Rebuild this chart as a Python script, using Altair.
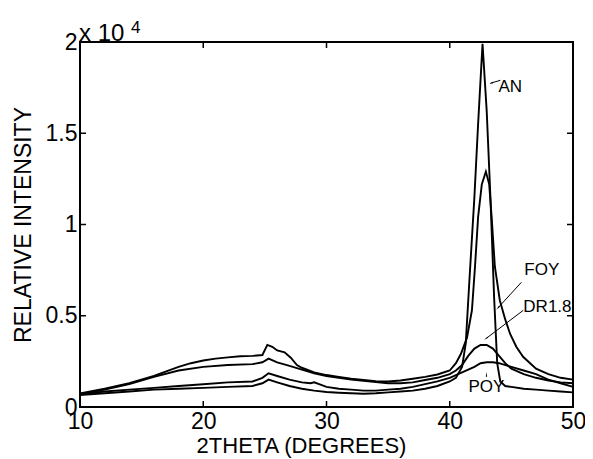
import altair as alt
import pandas as pd

# ---- data (intensity in units of 1e4 counts) ----
foy_x = [10,12,14,16,17,18,19,20,21,22,23,24,24.8,25.2,25.6,26,26.6,27.1,27.6,28,29,30,31,32,33,34,35,36,37,38,39,40,40.5,40.9,41.4,41.8,42.05,42.3,42.6,42.93,43.2,43.4,43.66,44.06,44.5,44.9,45.4,45.95,47,48,49,50]
foy_y = [0.075,0.10,0.13,0.17,0.195,0.22,0.24,0.255,0.265,0.272,0.278,0.28,0.285,0.34,0.33,0.31,0.30,0.27,0.23,0.215,0.19,0.175,0.165,0.155,0.148,0.142,0.14,0.145,0.155,0.165,0.178,0.20,0.24,0.29,0.38,0.53,0.77,1.04,1.22,1.29,1.22,1.04,0.77,0.585,0.48,0.40,0.33,0.275,0.21,0.18,0.16,0.15]

dr_x = [10,12,14,16,18,20,22,24,24.8,25.3,26,27,28,29,30,31,32,33,34,35,36,37,38,39,40,40.5,41,41.5,42,42.5,43,43.5,44,44.5,45,46,47,48,49,50]
dr_y = [0.07,0.095,0.125,0.165,0.20,0.22,0.23,0.235,0.245,0.265,0.245,0.225,0.205,0.185,0.17,0.16,0.15,0.143,0.137,0.13,0.13,0.135,0.148,0.16,0.18,0.2,0.23,0.28,0.32,0.34,0.34,0.32,0.28,0.24,0.21,0.18,0.16,0.145,0.135,0.13]

poy_x = [10,12,14,16,18,20,22,24,24.8,25.3,26,27,28,28.7,29,29.4,30,31,32,33,34,35,36,37,38,39,40,40.5,41,42,42.5,43,43.5,44,45,46,47,48,49,50]
poy_y = [0.07,0.085,0.095,0.105,0.115,0.125,0.135,0.14,0.16,0.185,0.17,0.15,0.135,0.13,0.135,0.125,0.11,0.10,0.095,0.09,0.09,0.095,0.10,0.11,0.125,0.14,0.16,0.175,0.19,0.22,0.24,0.245,0.245,0.24,0.22,0.2,0.18,0.15,0.13,0.11]

an_x = [10,12,14,16,18,20,22,24,24.8,25.3,26,27,28,29,30,31,32,33,34,35,36,37,38,39,40,40.5,41,41.3,41.6,42,42.3,42.66,43,43.3,43.6,43.85,44.1,44.5,45,46,47,48,49,50]
an_y = [0.065,0.075,0.085,0.095,0.10,0.105,0.11,0.115,0.13,0.15,0.135,0.115,0.10,0.09,0.082,0.078,0.075,0.073,0.075,0.08,0.085,0.09,0.10,0.115,0.14,0.16,0.22,0.35,0.7,1.15,1.55,1.99,1.62,1.15,0.6,0.24,0.14,0.115,0.11,0.1,0.095,0.09,0.085,0.08]

x_ticks = [10, 20, 30, 40, 50]
y_ticks = [0, 5000, 10000, 15000, 20000]

# annotation labels (data coordinates, intensity in 1e4)
ann_text = ["AN", "FOY", "DR1.8", "POY"]
ann_x = [43.95, 46.05, 45.97, 42.98]
ann_y = [1.754, 0.749, 0.546, 0.109]
ann_align = ["left", "left", "left", "center"]
# arrows: start -> tip
arr_x1 = [44.11, 45.81, 45.97]
arr_y1 = [1.79, 0.683, 0.53]
arr_x2 = [43.39, 43.95, 42.98]
arr_y2 = [1.776, 0.546, 0.377]
head_x = [43.39, 43.95, 42.98, 42.98]
head_y = [1.776, 0.546, 0.377, 0.175]
head_angle = [251.6, 222.6, 232.9, 0]

rows = []
for name, xs, ys in [("FOY", foy_x, foy_y), ("DR1.8", dr_x, dr_y), ("POY", poy_x, poy_y), ("AN", an_x, an_y)]:
    for i, (a, b) in enumerate(zip(xs, ys)):
        rows.append({"series": name, "order": i, "x": a, "y": b * 10000})
df = pd.DataFrame(rows)

ann_df = pd.DataFrame({"t": ann_text, "x": ann_x, "y": [v * 10000 for v in ann_y], "al": ann_align})
arr_df = pd.DataFrame({"x": arr_x1, "y": [v * 10000 for v in arr_y1],
                       "x2": arr_x2, "y2": [v * 10000 for v in arr_y2]})
head_df = pd.DataFrame({"x": head_x, "y": [v * 10000 for v in head_y], "a": head_angle})
xt_df = pd.DataFrame({"v": x_ticks[1:-1]})
yt_df = pd.DataFrame({"v": y_ticks[1:-1]})

W, H = 493, 365
FONT = "Liberation Sans"

xscale = alt.Scale(domain=[10, 50], nice=False, zero=False)
yscale = alt.Scale(domain=[0, 20000], nice=False)

lines = alt.Chart(df).mark_line(color="black", strokeWidth=1.9).encode(
    x=alt.X("x:Q", scale=xscale,
            axis=alt.Axis(values=x_ticks, title="2THETA (DEGREES)", tickSize=0, grid=False,
                          domain=False, labelFontSize=23, labelPadding=3, labelColor="black",
                          labelFlush=False, labelOverlap=False,
                          titleFontSize=22, titleFontWeight="normal", titleColor="black",
                          titleX=221, titleY=45, titleBaseline="alphabetic",
                          labelFont=FONT, titleFont=FONT)),
    y=alt.Y("y:Q", scale=yscale,
            axis=alt.Axis(values=y_ticks, title="RELATIVE INTENSITY", tickSize=0, grid=False,
                          domain=False, labelFontSize=23, labelPadding=3, labelColor="black",
                          labelFlush=False, labelOverlap=False,
                          labelExpr="datum.value/10000",
                          titleFontSize=23, titleFontWeight="normal", titleColor="black",
                          titleX=-57, titleBaseline="middle",
                          labelFont=FONT, titleFont=FONT)),
    detail="series:N",
    order="order:Q",
)

xt_bottom = alt.Chart(xt_df).mark_rule(color="black", strokeWidth=1.5).encode(
    x=alt.X("v:Q", scale=xscale), y=alt.value(H), y2=alt.value(H - 6))
xt_top = alt.Chart(xt_df).mark_rule(color="black", strokeWidth=1.5).encode(
    x=alt.X("v:Q", scale=xscale), y=alt.value(0), y2=alt.value(6))
yt_left = alt.Chart(yt_df).mark_rule(color="black", strokeWidth=1.5).encode(
    y=alt.Y("v:Q", scale=yscale), x=alt.value(0), x2=alt.value(6))
yt_right = alt.Chart(yt_df).mark_rule(color="black", strokeWidth=1.5).encode(
    y=alt.Y("v:Q", scale=yscale), x=alt.value(W), x2=alt.value(W - 6))

labels_left = alt.Chart(ann_df[ann_df.al == "left"]).mark_text(
    fontSize=17, font=FONT, color="black", baseline="middle", align="left").encode(
    x=alt.X("x:Q", scale=xscale), y=alt.Y("y:Q", scale=yscale), text="t:N")
labels_center = alt.Chart(ann_df[ann_df.al == "center"]).mark_text(
    fontSize=17, font=FONT, color="black", baseline="middle", align="center").encode(
    x=alt.X("x:Q", scale=xscale), y=alt.Y("y:Q", scale=yscale), text="t:N")

arrows = alt.Chart(arr_df).mark_rule(color="black", strokeWidth=1).encode(
    x=alt.X("x:Q", scale=xscale), y=alt.Y("y:Q", scale=yscale),
    x2="x2:Q", y2="y2:Q")
heads = alt.Chart(head_df).mark_point(shape="wedge", filled=True, color="black", size=30, opacity=1).encode(
    x=alt.X("x:Q", scale=xscale), y=alt.Y("y:Q", scale=yscale), angle=alt.Angle("a:Q", scale=None))

mult = alt.Chart(pd.DataFrame({"t": ["x 10"]})).mark_text(
    fontSize=24, font=FONT, color="black", align="left", baseline="alphabetic").encode(
    x=alt.value(-1), y=alt.value(-1), text="t:N")
expo = alt.Chart(pd.DataFrame({"t": ["4"]})).mark_text(
    fontSize=17, font=FONT, color="black", align="left", baseline="alphabetic").encode(
    x=alt.value(51), y=alt.value(-9), text="t:N")

chart = alt.layer(lines, xt_bottom, xt_top, yt_left, yt_right, labels_left, labels_center,
                  arrows, heads, mult, expo).properties(
    width=W, height=H,
    padding={"left": 72, "top": 34, "right": 12, "bottom": 52},
    autosize=alt.AutoSizeParams(type="none"),
    background="white",
).configure_view(stroke="black", strokeWidth=2)

chart.save("out.html", embed_options={"renderer": "svg", "actions": False})
